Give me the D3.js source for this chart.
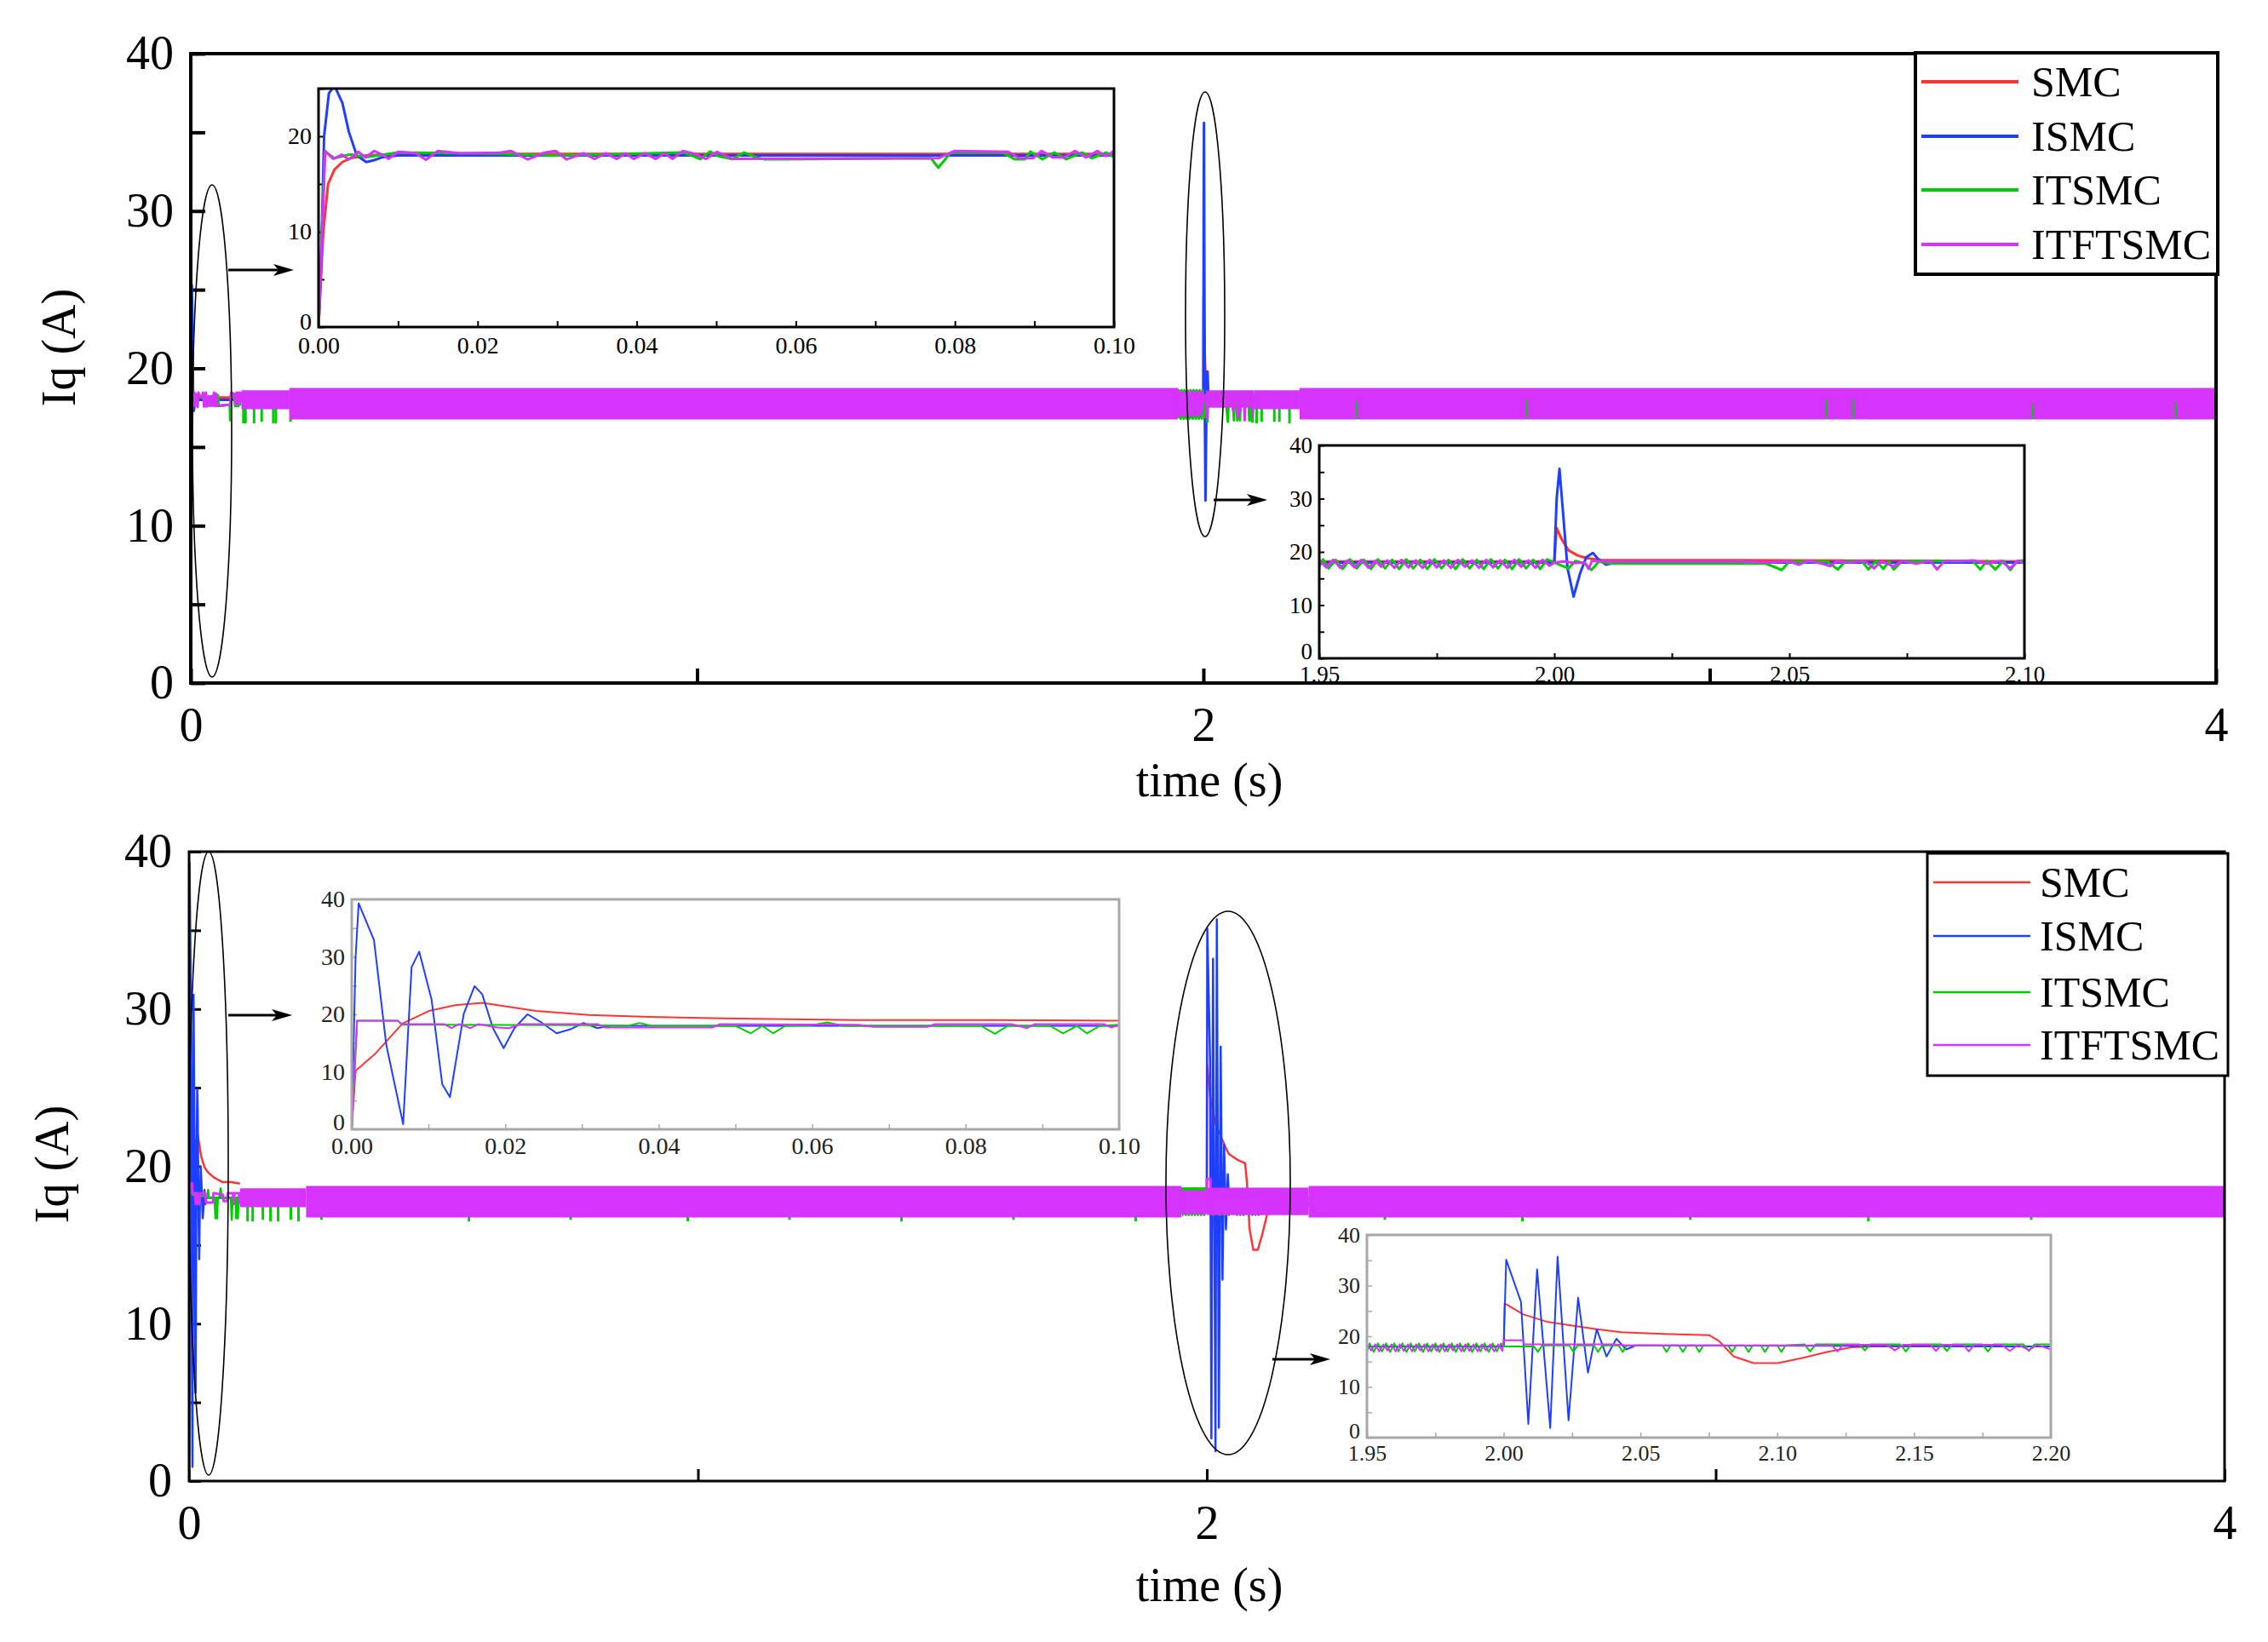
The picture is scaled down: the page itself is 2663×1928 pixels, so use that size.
<!DOCTYPE html>
<html><head><meta charset="utf-8">
<script src="https://cdn.jsdelivr.net/npm/d3@7"></script>
<style>body{margin:0;background:#fff}svg{display:block}</style>
</head><body>
<svg id="c" width="2663" height="1928"></svg>
<script>
// ---------- series ----------
const seriesNames = ["SMC", "ISMC", "ITSMC", "ITFTSMC"];
const seriesColors = ["#ff3535", "#1f3fff", "#00cc00", "#d633ff"];

// ---------- main axis ticks ----------
const mainXTicks = [0, 1, 2, 3, 4];
const mainXLabels = ["0", "", "2", "", "4"];
const mainYTicks = [0, 5, 10, 15, 20, 25, 30, 35, 40];
const mainYLabels = ["0", "", "10", "", "20", "", "30", "", "40"];

// ---------- TOP figure: zoom window A (0 – 0.1 s) ----------
const topA_SMC = [[0,0],[0.0003,5],[0.0006,10],[0.0012,15],[0.002,16.5],[0.003,17.3],[0.004,17.7],[0.006,18.0],[0.01,18.15],[0.1,18.15]];
const topA_ISMC = [[0,0],[0.0003,6],[0.0007,20],[0.0013,24.5],[0.002,25.3],[0.003,23.5],[0.0038,20.5],[0.0048,18.0],[0.006,17.3],[0.007,17.5],[0.008,17.8],[0.01,18.0],[0.1,18.0]];
const topA_ITSMC = [[0,0],[0.0008,18.4],[0.002,17.7],[0.004,18.1],[0.006,17.8],[0.01,18.3],[0.02,18.2],[0.03,18.0],[0.0458,18.3],[0.0472,17.9],[0.048,17.6],[0.0492,18.4],[0.0503,17.9],[0.052,17.6],[0.0535,18.3],[0.055,17.8],[0.056,17.6],[0.058,17.6],[0.077,17.7],[0.0779,16.7],[0.0795,18.3],[0.086,18.3],[0.0875,17.6],[0.0888,17.6],[0.0895,18.4],[0.091,17.6],[0.0925,18.3],[0.094,17.6],[0.096,18.3],[0.0972,17.7],[0.099,18.3],[0.1,17.8]];
const topA_ITFTSMC = [[0,0],[0.00084,18.46],[0.00183,17.63],[0.00295,18.07],[0.0038,17.57],[0.005,18.37],[0.0059,17.78],[0.007,18.46],[0.008,18.07],[0.0088,17.63],[0.01,18.37],[0.0122,18.22],[0.0135,17.54],[0.015,18.46],[0.0178,18.22],[0.0228,18.28],[0.0242,18.46],[0.0263,17.57],[0.0284,18.28],[0.0298,18.46],[0.0312,17.57],[0.0333,18.22],[0.0347,17.63],[0.0361,18.22],[0.0375,17.63],[0.0386,18.22],[0.0396,17.63],[0.041,18.22],[0.0424,17.63],[0.0435,18.22],[0.0445,17.63],[0.0458,18.46],[0.0473,18.16],[0.0487,17.63],[0.0501,18.37],[0.0521,17.63],[0.0779,17.69],[0.08,18.46],[0.0867,18.37],[0.0881,17.69],[0.0898,17.69],[0.0909,18.46],[0.0923,17.78],[0.0937,17.78],[0.0951,18.46],[0.0965,17.78],[0.0979,18.46],[0.099,17.93],[0.1,18.46]];

// ---------- TOP figure: zoom window B (1.95 – 2.10 s) ----------
const topB_SMC = [[1.95,18.2],[2.0,18.2],[2.0005,24.5],[2.0015,22.5],[2.003,20.3],[2.005,19.3],[2.007,18.8],[2.01,18.5],[2.05,18.4],[2.1,18.2]];
const topB_ISMC = [[1.95,18],[2.0,18],[2.0005,30],[2.0011,35.6],[2.0018,28],[2.0028,17],[2.0041,11.6],[2.0055,16],[2.0068,19],[2.0082,19.8],[2.0095,18.5],[2.011,17.6],[2.013,18],[2.1,18]];
const topB_ITSMC = [[1.95,17.2],[1.9508,18.6],[1.952,16.9],[1.9535,18.5],[1.955,16.8],[1.9565,18.6],[1.958,16.9],[1.9595,18.5],[1.961,16.8],[1.9625,18.6],[1.964,16.9],[1.9655,18.5],[1.967,16.8],[1.9685,18.6],[1.97,16.9],[1.9715,18.5],[1.973,16.8],[1.9745,18.6],[1.976,16.9],[1.9775,18.5],[1.979,16.8],[1.9805,18.6],[1.982,16.9],[1.9835,18.5],[1.985,16.8],[1.9865,18.6],[1.988,16.9],[1.9895,18.5],[1.991,16.8],[1.9925,18.6],[1.994,16.9],[1.9955,18.5],[1.997,16.8],[1.9985,18.6],[2.0,18.0],[2.003,16.9],[2.0045,18.3],[2.0065,17.8],[2.0079,16.6],[2.0095,18.2],[2.012,17.8],[2.045,17.8],[2.0484,16.6],[2.05,18.2],[2.058,18.2],[2.0603,16.7],[2.062,18.3],[2.0655,18.2],[2.0668,16.7],[2.0685,18.3],[2.07,16.8],[2.0712,18.2],[2.0722,16.7],[2.074,18.3],[2.089,18.3],[2.0906,16.7],[2.092,18.3],[2.0938,16.7],[2.0955,18.3],[2.097,16.6],[2.0985,18.3],[2.1,18.4]];
const topB_ITFTSMC = [[1.95,18.4],[1.9515,17.1],[1.953,18.5],[1.9545,17.0],[1.956,18.4],[1.9575,17.1],[1.959,18.5],[1.9605,17.0],[1.962,18.3],[1.9632,17.2],[1.9645,18.4],[1.966,17.0],[1.9675,18.5],[1.969,17.1],[1.9705,18.4],[1.972,17.0],[1.9735,18.5],[1.975,17.1],[1.9765,18.4],[1.978,17.0],[1.9795,18.5],[1.981,17.2],[1.9825,18.4],[1.984,17.0],[1.9855,18.5],[1.987,17.1],[1.9885,18.4],[1.99,17.0],[1.9915,18.5],[1.993,17.2],[1.9945,18.4],[1.996,17.0],[1.9975,18.5],[1.999,17.4],[2.0,18.0],[2.002,18.2],[2.0045,17.9],[2.0065,18.0],[2.0073,16.8],[2.008,18.3],[2.012,18.2],[2.04,18.2],[2.045,18.0],[2.05,18.2],[2.052,17.6],[2.054,18.3],[2.057,17.8],[2.0587,17.3],[2.06,18.2],[2.063,18.0],[2.066,18.3],[2.068,16.9],[2.0695,18.2],[2.0722,17.3],[2.074,18.3],[2.077,17.8],[2.08,18.3],[2.0814,16.7],[2.083,18.3],[2.086,18.2],[2.089,18.4],[2.092,17.8],[2.095,18.3],[2.097,16.9],[2.0985,18.3],[2.1,17.9]];

// ---------- TOP figure: chattering envelope of ITFTSMC outside the zoom windows [t0, t1, low, high] ----------
const topBands_ITFTSMC = [[0.10,0.195,17.4,18.6],[0.195,1.95,16.75,18.75],[2.005,2.10,17.5,18.6],[2.10,2.19,17.4,18.6],[2.19,4.0,16.75,18.75]];
// ITSMC downward spikes below the band [t, low]
const topDips_ITSMC = [[0.104,16.5],[0.108,16.5],[0.125,16.5],[0.14,16.6],[0.163,16.5],[0.168,16.5],[0.197,16.6],[2.105,16.5],[2.115,16.6],[2.14,16.6],[2.15,16.6],[2.17,16.5]];
// ITSMC spikes visible inside band [t, low, high]
const topInner_ITSMC = [[2.303,16.8,17.9],[2.638,16.8,18.0],[3.23,16.8,18.0],[3.283,16.8,18.0],[3.638,16.8,17.7],[3.92,16.8,17.8]];

// ---------- BOTTOM figure: zoom window A (0 – 0.1 s) ----------
const botA_SMC = [[0,0],[0.0005,10.2],[0.0031,13.2],[0.0066,18.4],[0.0101,20.6],[0.0135,21.6],[0.017,22.0],[0.0205,21.3],[0.024,20.6],[0.0309,19.9],[0.0378,19.6],[0.0483,19.3],[0.0656,19.0],[0.083,19.0],[0.1,18.9]];
const botA_ISMC = [[0,0],[0.0005,29.9],[0.0009,39.3],[0.0029,32.9],[0.0045,14.7],[0.0067,0.9],[0.0078,28.2],[0.0088,30.9],[0.0104,22.6],[0.0118,7.8],[0.0128,5.6],[0.0146,20.1],[0.016,24.9],[0.017,23.5],[0.0184,17.6],[0.0198,14.1],[0.0212,17.6],[0.0229,20.0],[0.0247,18.6],[0.0267,16.7],[0.0285,17.4],[0.0302,18.5],[0.032,17.6],[0.0337,18.0],[0.1,18.0]];
const botA_ITSMC = [[0,0],[0.0007,18.9],[0.006,18.9],[0.0065,18.2],[0.03,18.1],[0.036,18.0],[0.0375,18.5],[0.039,18.0],[0.05,18.0],[0.052,16.7],[0.0535,18.0],[0.0549,16.7],[0.0565,18.0],[0.06,18.1],[0.062,18.6],[0.064,18.0],[0.082,18.0],[0.0838,16.6],[0.0855,18.0],[0.091,18.0],[0.0927,16.7],[0.0945,18.0],[0.0958,16.7],[0.0975,18.0],[0.1,18.2]];
const botA_ITFTSMC = [[0,0],[0.0007,18.9],[0.006,18.9],[0.0065,18.3],[0.012,18.3],[0.013,17.6],[0.014,18.3],[0.0155,17.6],[0.0165,18.3],[0.019,17.7],[0.0205,17.6],[0.022,18.3],[0.032,18.3],[0.033,17.7],[0.047,17.7],[0.048,18.3],[0.066,18.2],[0.068,17.8],[0.075,17.8],[0.076,18.3],[0.086,18.3],[0.088,17.6],[0.089,18.3],[0.098,18.3],[0.099,17.7],[0.1,18.2]];

// ---------- BOTTOM figure: zoom window B (1.95 – 2.20 s) ----------
const botB_SMC = [[1.95,18],[2.0,18],[2.0003,26.5],[2.0072,24.3],[2.0162,22.8],[2.0251,22.1],[2.034,21.4],[2.043,20.8],[2.052,20.6],[2.0609,20.4],[2.0752,20.2],[2.0788,19.0],[2.0841,16.0],[2.0913,14.7],[2.1002,14.7],[2.1092,15.7],[2.1181,16.9],[2.127,17.8],[2.135,18.0],[2.2,18]];
const botB_ISMC = [[1.95,18],[2.0,18],[2.0009,35.1],[2.0063,26.8],[2.009,2.7],[2.0122,33.2],[2.017,1.9],[2.0197,35.7],[2.0237,3.4],[2.0272,27.6],[2.0308,12.8],[2.034,21.4],[2.0376,16.0],[2.0412,19.5],[2.0448,17.4],[2.0483,18.2],[2.2,18]];
const botB_ITSMC = [[1.95,17.0],[1.951,18.6],[1.9525,16.9],[1.954,18.6],[1.9555,17.0],[1.957,18.6],[1.9585,16.9],[1.96,18.6],[1.9615,17.0],[1.963,18.6],[1.9645,16.9],[1.966,18.6],[1.9675,17.0],[1.969,18.6],[1.9705,16.9],[1.972,18.6],[1.9735,17.0],[1.975,18.6],[1.9765,16.9],[1.978,18.6],[1.9795,17.0],[1.981,18.6],[1.9825,16.9],[1.984,18.6],[1.9855,17.0],[1.987,18.6],[1.9885,16.9],[1.99,18.6],[1.9915,17.0],[1.993,18.6],[1.9945,16.9],[1.996,18.6],[1.9975,17.0],[1.999,18.6],[2.0,18.0],[2.011,18.0],[2.0125,16.9],[2.014,18.2],[2.024,18.2],[2.0255,16.9],[2.027,18.2],[2.033,18.2],[2.0345,16.9],[2.036,18.2],[2.042,18.2],[2.0435,16.9],[2.045,18.2],[2.058,18.2],[2.0595,16.9],[2.061,18.2],[2.064,18.2],[2.0655,16.9],[2.067,18.2],[2.07,18.2],[2.0715,16.9],[2.073,18.2],[2.082,18.2],[2.0835,16.9],[2.085,18.2],[2.088,18.2],[2.0895,16.9],[2.091,18.2],[2.094,18.2],[2.0955,16.9],[2.097,18.2],[2.1,18.2],[2.1015,16.9],[2.103,18.2],[2.11,18.4],[2.112,17.0],[2.114,18.4],[2.13,18.4],[2.132,17.2],[2.134,18.4],[2.145,18.4],[2.147,17.0],[2.149,18.4],[2.16,18.4],[2.162,17.1],[2.164,18.4],[2.175,18.4],[2.177,17.0],[2.179,18.4],[2.19,18.4],[2.192,17.1],[2.194,18.4],[2.2,18.4]];
const botB_ITFTSMC = [[1.95,18.4],[1.9515,17.2],[1.953,18.4],[1.9545,17.0],[1.956,18.4],[1.9575,17.2],[1.959,18.4],[1.9605,17.0],[1.962,18.4],[1.9635,17.1],[1.965,18.4],[1.9665,17.0],[1.968,18.4],[1.9695,17.2],[1.971,18.4],[1.9725,17.0],[1.974,18.4],[1.9755,17.1],[1.977,18.4],[1.9785,17.0],[1.98,18.4],[1.9815,17.2],[1.983,18.4],[1.9845,17.0],[1.986,18.4],[1.9875,17.1],[1.989,18.4],[1.9905,17.0],[1.992,18.4],[1.9935,17.2],[1.995,18.4],[1.9965,17.0],[1.998,18.4],[1.9995,17.1],[2.0,19.2],[2.007,19.2],[2.0075,18.4],[2.04,18.4],[2.045,18.2],[2.12,18.2],[2.122,17.0],[2.124,18.3],[2.14,18.3],[2.143,17.2],[2.146,18.3],[2.156,18.3],[2.158,17.1],[2.16,18.3],[2.168,18.3],[2.17,17.0],[2.172,18.3],[2.182,18.3],[2.185,17.1],[2.188,18.3],[2.192,17.3],[2.195,18.3],[2.2,17.4]];

const botBands_ITFTSMC = [[0.10,0.23,17.4,18.6],[0.23,1.95,16.75,18.75],[2.0,2.2,16.9,18.65],[2.2,4.0,16.75,18.75]];
const botDips_ITSMC = [[0.115,16.5],[0.125,16.5],[0.145,16.6],[0.16,16.5],[0.175,16.5],[0.2,16.6],[0.215,16.5],[0.26,16.6],[0.55,16.5],[0.75,16.6],[0.98,16.5],[1.18,16.6],[1.4,16.5],[1.62,16.6],[1.86,16.5],[2.35,16.6],[2.62,16.5],[2.95,16.6],[3.3,16.5],[3.62,16.6]];

// ---------- drawing ----------
const svg = d3.select("#c");
const FONT = "'Liberation Serif','Times New Roman',serif";
let clipN = 0;

function panel(cfg) {
  const g = svg.append("g");
  const xs = d3.scaleLinear().domain(cfg.xDomain).range([cfg.left, cfg.right]);
  const ys = d3.scaleLinear().domain(cfg.yDomain).range([cfg.bottom, cfg.top]);
  g.append("rect").attr("x", cfg.left).attr("y", cfg.top)
    .attr("width", cfg.right - cfg.left).attr("height", cfg.bottom - cfg.top).attr("fill", "#fff");
  const id = "clip" + (clipN++);
  svg.append("clipPath").attr("id", id).append("rect")
    .attr("x", cfg.left).attr("y", cfg.top).attr("width", cfg.right - cfg.left).attr("height", cfg.bottom - cfg.top);
  const xAxis = d3.axisBottom(xs).tickValues(cfg.xTicks).tickFormat((d, i) => cfg.xLabels[i])
    .tickSizeInner(-cfg.tickLen).tickSizeOuter(0).tickPadding(cfg.xPad);
  const yAxis = d3.axisLeft(ys).tickValues(cfg.yTicks).tickFormat((d, i) => cfg.yLabels[i])
    .tickSizeInner(-cfg.tickLen).tickSizeOuter(0).tickPadding(cfg.yPad);
  const gx = g.append("g").attr("transform", `translate(0,${cfg.bottom})`).call(xAxis);
  const gy = g.append("g").attr("transform", `translate(${cfg.left},0)`).call(yAxis);
  [gx, gy].forEach(a => {
    a.select(".domain").remove();
    a.selectAll("line").attr("stroke", cfg.frameColor).attr("stroke-width", cfg.tickW);
    a.selectAll("text").attr("font-family", FONT).attr("font-size", cfg.fs).attr("fill", cfg.textColor);
  });
  if (cfg.zeroLift) {
    gy.selectAll(".tick").filter(d => d === cfg.yDomain[0]).select("text")
      .attr("y", -cfg.zeroLift);
  }
  const data = g.append("g").attr("clip-path", `url(#${id})`);
  return {
    g, data, xs, ys,
    line: d3.line().x(d => xs(d[0])).y(d => ys(d[1])),
    frame() {
      g.append("rect").attr("x", cfg.left).attr("y", cfg.top)
        .attr("width", cfg.right - cfg.left).attr("height", cfg.bottom - cfg.top)
        .attr("fill", "none").attr("stroke", cfg.frameColor).attr("stroke-width", cfg.frameW);
    }
  };
}

function drawSeries(p, arrs, width) {
  arrs.forEach((a, i) => {
    if (!a) return;
    a.forEach(seg => {
      p.data.append("path").datum(seg).attr("d", p.line).attr("fill", "none")
        .attr("stroke", seriesColors[i]).attr("stroke-width", width).attr("stroke-linejoin", "round");
    });
  });
}

function drawBands(p, bands, color) {
  const area = d3.area().x(d => p.xs(d[0])).y0(d => p.ys(d[1])).y1(d => p.ys(d[2]));
  bands.forEach(b => {
    p.data.append("path").datum([[b[0], b[2], b[3]], [b[1], b[2], b[3]]]).attr("d", area).attr("fill", color);
  });
}

function drawDips(p, dips, base, color, w) {
  dips.forEach(d => {
    p.data.append("line").attr("x1", p.xs(d[0])).attr("x2", p.xs(d[0]))
      .attr("y1", p.ys(d.length > 2 ? d[2] : base)).attr("y2", p.ys(d[1]))
      .attr("stroke", color).attr("stroke-width", w);
  });
}

function mainLabels(cx, cy, lx, ly) {
  svg.append("text").attr("x", cx).attr("y", cy).attr("text-anchor", "middle")
    .attr("font-family", FONT).attr("font-size", 56).text("time (s)");
  svg.append("text").attr("transform", `translate(${lx},${ly}) rotate(-90)`).attr("text-anchor", "middle")
    .attr("font-family", FONT).attr("font-size", 56).text("Iq (A)");
}

function ellipse(cx, cy, rx, ry) {
  svg.append("ellipse").attr("cx", cx).attr("cy", cy).attr("rx", rx).attr("ry", ry)
    .attr("fill", "none").attr("stroke", "#000").attr("stroke-width", 1.6);
}
function arrow(x1, x2, y) {
  svg.append("line").attr("x1", x1).attr("x2", x2 - 14).attr("y1", y).attr("y2", y)
    .attr("stroke", "#000").attr("stroke-width", 3);
  svg.append("path").attr("d", `M${x2},${y} L${x2 - 24},${y - 7} L${x2 - 18},${y} L${x2 - 24},${y + 7} Z`).attr("fill", "#000");
}

function legend(x, y, w, h, rows, lx1, lx2, tx, lw, bw) {
  svg.append("rect").attr("x", x).attr("y", y).attr("width", w).attr("height", h)
    .attr("fill", "#fff").attr("stroke", "#000").attr("stroke-width", bw);
  seriesNames.forEach((n, i) => {
    svg.append("line").attr("x1", lx1).attr("x2", lx2).attr("y1", rows[i]).attr("y2", rows[i])
      .attr("stroke", seriesColors[i]).attr("stroke-width", lw);
    svg.append("text").attr("x", tx).attr("y", rows[i] + 17).attr("font-family", FONT)
      .attr("font-size", 50).text(n);
  });
}

// ===== TOP MAIN =====
const pt = panel({left: 224, right: 2602, top: 63, bottom: 802, xDomain: [0, 4], yDomain: [0, 40],
  xTicks: mainXTicks, xLabels: mainXLabels, yTicks: mainYTicks, yLabels: mainYLabels,
  tickLen: 17, tickW: 4, frameW: 4, frameColor: "#000", textColor: "#000", fs: 56, xPad: 28, yPad: 20});
drawSeries(pt, [[topA_SMC, topB_SMC], [topA_ISMC, topB_ISMC], [topA_ITSMC, topB_ITSMC]], 3);
drawDips(pt, topDips_ITSMC, 17.6, seriesColors[2], 3);
drawBands(pt, topBands_ITFTSMC, seriesColors[3]);
drawSeries(pt, [null, null, null, [topA_ITFTSMC, topB_ITFTSMC]], 3);
drawDips(pt, topInner_ITSMC, 17.6, seriesColors[2], 2);
pt.frame();
mainLabels(1420, 935, 88, 408);
ellipse(249, 506, 23, 289);
ellipse(1415, 369, 23, 261);
arrow(268, 345, 317);
arrow(1425, 1488, 587);

// top inset A
const tA = panel({left: 374, right: 1308, top: 104, bottom: 384, xDomain: [0, 0.1], yDomain: [0, 25],
  xTicks: [0,0.01,0.02,0.03,0.04,0.05,0.06,0.07,0.08,0.09,0.1],
  xLabels: ["0.00","","0.02","","0.04","","0.06","","0.08","","0.10"],
  yTicks: [0,5,10,15,20,25], yLabels: ["0","","10","","20",""],
  tickLen: 7, tickW: 2, frameW: 3, frameColor: "#000", textColor: "#000", fs: 28, xPad: 11, yPad: 8, zeroLift: 6});
drawSeries(tA, [[topA_SMC], [topA_ISMC], [topA_ITSMC], [topA_ITFTSMC]], 3);
tA.frame();

// top inset B
const tB = panel({left: 1549, right: 2377, top: 523, bottom: 773, xDomain: [1.95, 2.10], yDomain: [0, 40],
  xTicks: [1.95,1.975,2.0,2.025,2.05,2.075,2.1], xLabels: ["1.95","","2.00","","2.05","","2.10"],
  yTicks: [0,5,10,15,20,25,30,35,40], yLabels: ["0","","10","","20","","30","","40"],
  tickLen: 6, tickW: 2, frameW: 3, frameColor: "#000", textColor: "#000", fs: 27, xPad: 9, yPad: 8, zeroLift: 8});
drawSeries(tB, [[topB_SMC], [topB_ISMC], [topB_ITSMC], [topB_ITFTSMC]], 3);
tB.frame();

legend(2249, 62, 355, 260, [96, 160, 223, 287], 2256, 2370, 2385, 4, 4);

// ===== BOTTOM MAIN =====
const pb = panel({left: 222, right: 2612, top: 1000, bottom: 1739, xDomain: [0, 4], yDomain: [0, 40],
  xTicks: mainXTicks, xLabels: mainXLabels, yTicks: mainYTicks, yLabels: mainYLabels,
  tickLen: 14, tickW: 3, frameW: 3, frameColor: "#000", textColor: "#000", fs: 56, xPad: 28, yPad: 20});
drawSeries(pb, [[botA_SMC, botB_SMC], [botA_ISMC, botB_ISMC], [botA_ITSMC, botB_ITSMC]], 2.5);
drawDips(pb, botDips_ITSMC, 17.6, seriesColors[2], 3);
drawBands(pb, botBands_ITFTSMC, seriesColors[3]);
drawSeries(pb, [null, null, null, [botA_ITFTSMC, botB_ITFTSMC]], 3);
pb.frame();
mainLabels(1420, 1880, 80, 1367);
ellipse(245, 1366, 23, 366);
ellipse(1442, 1389, 73, 319);
arrow(268, 343, 1192);
arrow(1494, 1562, 1596);

// bottom inset A
const bA = panel({left: 413, right: 1314, top: 1056, bottom: 1326, xDomain: [0, 0.1], yDomain: [0, 40],
  xTicks: [0,0.01,0.02,0.03,0.04,0.05,0.06,0.07,0.08,0.09,0.1],
  xLabels: ["0.00","","0.02","","0.04","","0.06","","0.08","","0.10"],
  yTicks: [0,5,10,15,20,25,30,35,40], yLabels: ["0","","10","","20","","30","","40"],
  tickLen: 6, tickW: 1.5, frameW: 3, frameColor: "#a8a8a8", textColor: "#222", fs: 28, xPad: 9, yPad: 8, zeroLift: 8});
drawSeries(bA, [[botA_SMC], [botA_ISMC], [botA_ITSMC], [botA_ITFTSMC]], 2);
bA.frame();

// bottom inset B
const bB = panel({left: 1605, right: 2408, top: 1450, bottom: 1688, xDomain: [1.95, 2.2], yDomain: [0, 40],
  xTicks: [1.95,1.975,2.0,2.025,2.05,2.075,2.1,2.125,2.15,2.175,2.2],
  xLabels: ["1.95","","2.00","","2.05","","2.10","","2.15","","2.20"],
  yTicks: [0,5,10,15,20,25,30,35,40], yLabels: ["0","","10","","20","","30","","40"],
  tickLen: 6, tickW: 1.5, frameW: 3, frameColor: "#a8a8a8", textColor: "#222", fs: 26, xPad: 9, yPad: 8, zeroLift: 8});
drawSeries(bB, [[botB_SMC], [botB_ISMC], [botB_ITSMC], [botB_ITFTSMC]], 2);
bB.frame();

legend(2263, 1002, 353, 261, [1036, 1099, 1165, 1227], 2270, 2384, 2395, 2.5, 3);
</script>
</body></html>
